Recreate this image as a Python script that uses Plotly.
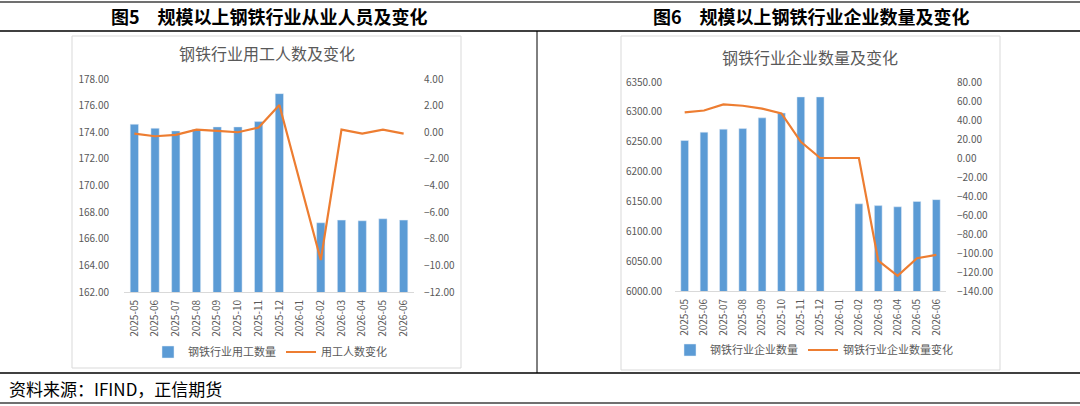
import plotly.graph_objects as go

W, H = 1080, 406

months = ["2025-05", "2025-06", "2025-07", "2025-08", "2025-09", "2025-10", "2025-11",
          "2025-12", "2026-01", "2026-02", "2026-03", "2026-04", "2026-05", "2026-06"]

# 图5: 用工数量 (万人) and 变化
workers = [174.6, 174.3, 174.1, 174.2, 174.4, 174.4, 174.8,
           176.9, None, 167.2, 167.4, 167.35, 167.5, 167.4]
workers_chg = [-0.1, -0.3, -0.2, 0.2, 0.1, 0.0, 0.35,
               2.05, None, -9.6, 0.2, -0.1, 0.2, -0.1]

# 图6: 企业数量 and 变化
firms = [6252, 6266, 6271, 6272, 6290, 6298, 6325,
         6325, None, 6146, 6143, 6141, 6150, 6153]
firms_chg = [48, 50, 56.5, 55, 52, 47, 17,
             0, None, 0, -108, -124, -105.5, -102]

BLUE = "#5B9BD5"
ORANGE = "#ED7D31"
GREY = "#595959"
CJK = "Noto Sans CJK SC"


def px_x(x):
    return x / W


def px_y(y):
    return 1 - y / H


fig = go.Figure()

fig.add_trace(go.Bar(x=months, y=workers, name="钢铁行业用工数量", marker_color=BLUE,
                     xaxis="x", yaxis="y", legend="legend"))
fig.add_trace(go.Scatter(x=months, y=workers_chg, name="用工人数变化", mode="lines",
                         line=dict(color=ORANGE, width=2.2), connectgaps=True,
                         xaxis="x", yaxis="y2", legend="legend"))
fig.add_trace(go.Bar(x=months, y=firms, name="钢铁行业企业数量", marker_color=BLUE,
                     xaxis="x3", yaxis="y3", legend="legend2"))
fig.add_trace(go.Scatter(x=months, y=firms_chg, name="钢铁行业企业数量变化", mode="lines",
                         line=dict(color=ORANGE, width=2.2), connectgaps=True,
                         xaxis="x3", yaxis="y4", legend="legend2"))

tick_font = dict(family=CJK, size=10, color=GREY)
xcommon = dict(type="category", tickangle=-90, tickfont=tick_font, showgrid=False,
               showline=True, linecolor="#D9D9D9", linewidth=1, ticks="", zeroline=False,
               automargin=False, ticklabelstandoff=3)
ycommon = dict(tickfont=tick_font, showgrid=False, zeroline=False, tickformat=".2f",
               showline=False, ticks="", automargin=False)

fig.update_layout(
    width=W, height=H,
    margin=dict(l=0, r=0, t=0, b=0, autoexpand=False),
    paper_bgcolor="white", plot_bgcolor="white",
    bargap=0.6,
    xaxis=dict(domain=[px_x(124), px_x(414)], anchor="y", **xcommon),
    yaxis=dict(domain=[px_y(292), px_y(79)], range=[162, 178], dtick=2,
               ticklabelstandoff=14, **ycommon),
    yaxis2=dict(overlaying="y", side="right", anchor="x", range=[-12, 4], dtick=2,
                ticklabelstandoff=9, **ycommon),
    xaxis3=dict(domain=[px_x(675), px_x(946)], anchor="y3", **xcommon),
    yaxis3=dict(domain=[px_y(291), px_y(82)], anchor="x3", range=[6000, 6350], dtick=50,
                ticklabelstandoff=12, **ycommon),
    yaxis4=dict(overlaying="y3", side="right", anchor="x3", range=[-140, 80], dtick=20,
                ticklabelstandoff=10, **ycommon),
    legend=dict(orientation="h", x=px_x(270), xanchor="center", y=px_y(352), yanchor="middle",
                font=dict(family=CJK, size=11, color=GREY), bgcolor="rgba(0,0,0,0)",
                itemwidth=30),
    legend2=dict(orientation="h", x=px_x(814), xanchor="center", y=px_y(350), yanchor="middle",
                 font=dict(family=CJK, size=11, color=GREY), bgcolor="rgba(0,0,0,0)",
                 itemwidth=30),
    showlegend=True,
)

shapes = [
    # table rules
    dict(type="line", x0=0, x1=1, y0=px_y(2), y1=px_y(2), line=dict(color="#404040", width=1.5)),
    dict(type="line", x0=0, x1=1, y0=px_y(31), y1=px_y(31), line=dict(color="black", width=1.5)),
    dict(type="line", x0=px_x(537), x1=px_x(537), y0=px_y(31), y1=px_y(373),
         line=dict(color="black", width=1)),
    dict(type="line", x0=0, x1=1, y0=px_y(373), y1=px_y(373), line=dict(color="black", width=1.5)),
    dict(type="line", x0=0, x1=1, y0=px_y(403), y1=px_y(403), line=dict(color="#404040", width=1.5)),
    # chart frames
    dict(type="rect", x0=px_x(72), x1=px_x(461), y0=px_y(368), y1=px_y(36),
         line=dict(color="#D9D9D9", width=1)),
    dict(type="rect", x0=px_x(621), x1=px_x(1000), y0=px_y(370), y1=px_y(36),
         line=dict(color="#D9D9D9", width=1)),
]
for s in shapes:
    s["xref"] = "paper"
    s["yref"] = "paper"
    s["layer"] = "below"
fig.update_layout(shapes=shapes)

annotations = [
    dict(text="<b>图5　规模以上钢铁行业从业人员及变化</b>", x=px_x(269), y=px_y(16),
         font=dict(family=CJK, size=18, color="black")),
    dict(text="<b>图6　规模以上钢铁行业企业数量及变化</b>", x=px_x(811), y=px_y(16),
         font=dict(family=CJK, size=18, color="black")),
    dict(text="钢铁行业用工人数及变化", x=px_x(267), y=px_y(53),
         font=dict(family=CJK, size=16, color=GREY)),
    dict(text="钢铁行业企业数量及变化", x=px_x(810), y=px_y(57),
         font=dict(family=CJK, size=16, color=GREY)),
    dict(text="资料来源：IFIND，正信期货", x=px_x(7), y=px_y(388), xanchor="left",
         font=dict(family=CJK, size=17, color="black")),
]
for a in annotations:
    a["xref"] = "paper"
    a["yref"] = "paper"
    a["showarrow"] = False
    a.setdefault("xanchor", "center")
    a["yanchor"] = "middle"
fig.update_layout(annotations=annotations)

# the page's default 8px body margin would shift the whole figure
fig.write_html("out.html", config={"displayModeBar": False},
               post_script="document.body.style.margin='0';")
